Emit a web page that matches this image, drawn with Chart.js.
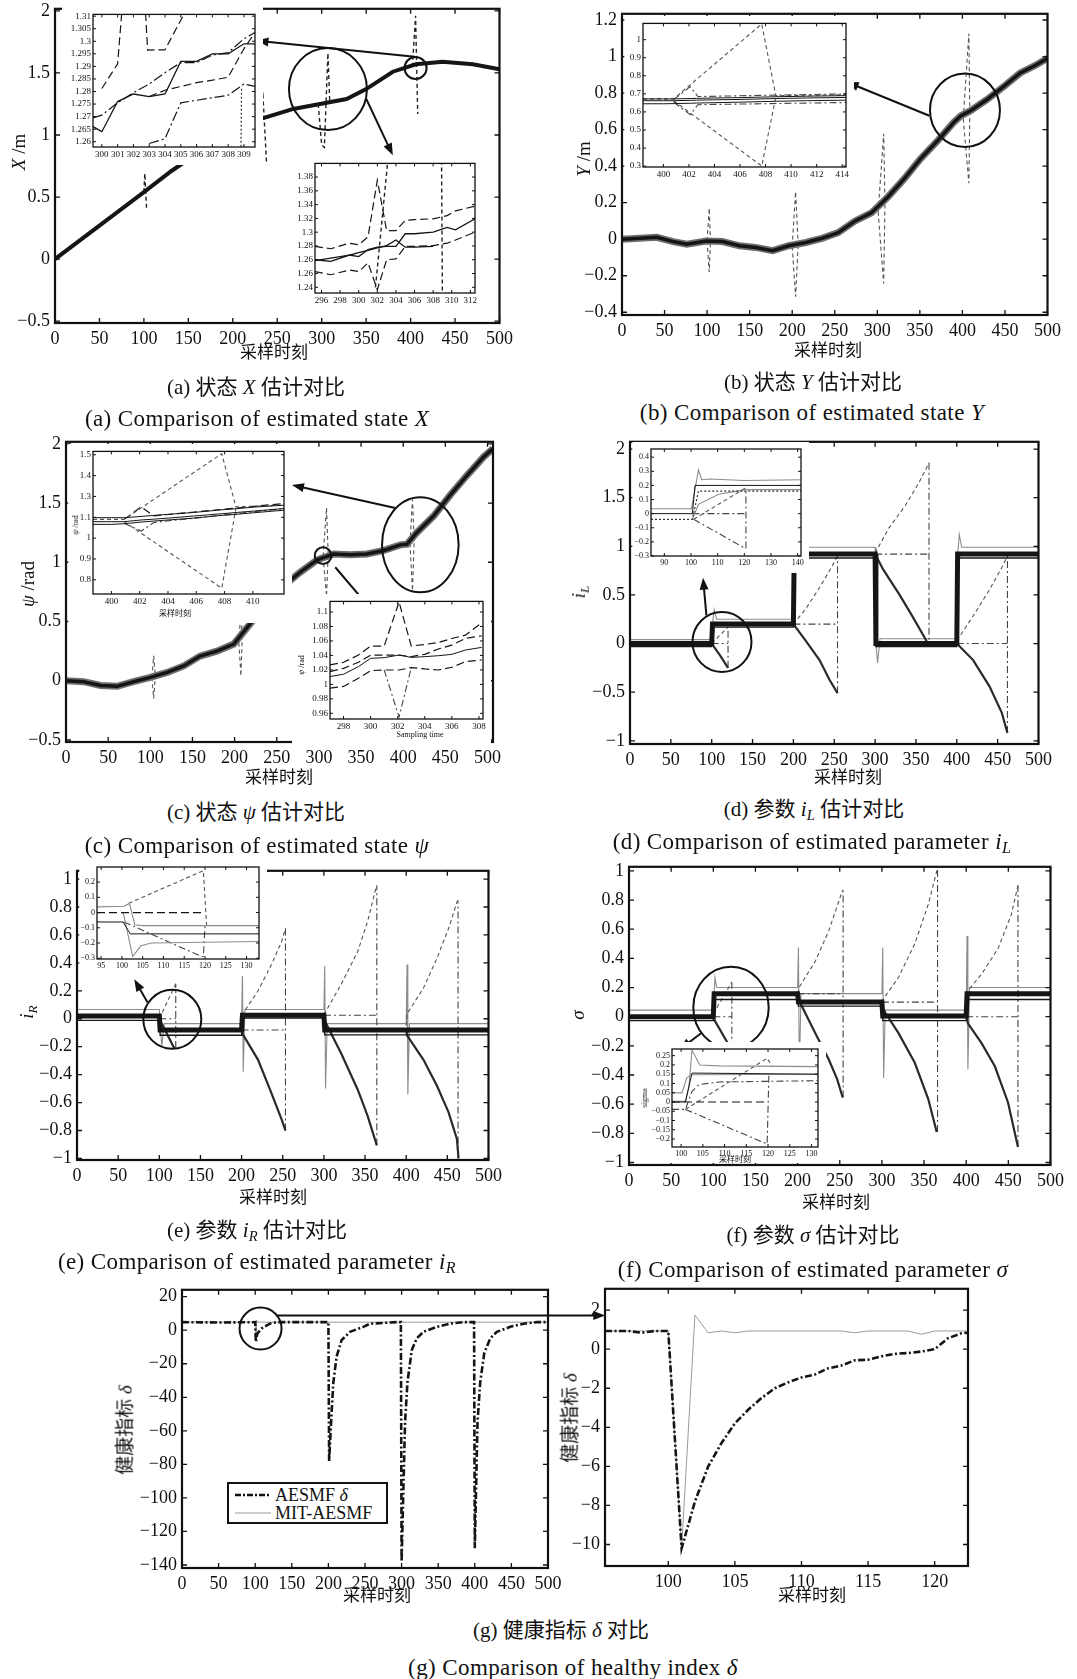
<!DOCTYPE html>
<html lang="zh">
<head>
<meta charset="utf-8">
<title>估计对比</title>
<script src="https://cdn.jsdelivr.net/npm/chart.js@4.4.1/dist/chart.umd.min.js"></script>
<style>
  html, body { margin: 0; padding: 0; background: #fff; }
  body { position: relative; width: 1077px; height: 1679px; overflow: hidden;
         font-family: 'Liberation Serif', 'Noto Sans CJK SC', serif; color: #111; }
  canvas { position: absolute; }
  .t { position: absolute; z-index: 5; white-space: nowrap; transform: translate(-50%, -50%); line-height: 1; }
  .r { transform: translate(-50%, -50%) rotate(-90deg); }
  .cap { font-size: 21px; }
  .en { font-size: 23px; letter-spacing: 0.4px; }
  .ax { font-size: 17px; }
  .yt { font-size: 19px; }
  .sm { font-size: 8px; }
  sub { font-size: 70%; vertical-align: -0.3em; }
</style>
</head>
<body>

<!-- axis titles -->
<div class="t ax" style="left:274px;top:352px">采样时刻</div>
<div class="t yt r" style="left:18px;top:152px"><i>X</i> /m</div>
<div class="t ax" style="left:828px;top:350px">采样时刻</div>
<div class="t yt r" style="left:583px;top:159px"><i>Y</i> /m</div>
<div class="t ax" style="left:279px;top:777px">采样时刻</div>
<div class="t yt r" style="left:27px;top:584px"><i>ψ</i> /rad</div>
<div class="t ax" style="left:848px;top:777px">采样时刻</div>
<div class="t yt r" style="left:580px;top:592px"><i>i</i><sub><i>L</i></sub></div>
<div class="t ax" style="left:273px;top:1197px">采样时刻</div>
<div class="t yt r" style="left:28px;top:1012px"><i>i</i><sub><i>R</i></sub></div>
<div class="t ax" style="left:836px;top:1202px">采样时刻</div>
<div class="t yt r" style="left:577px;top:1015px"><i>σ</i></div>
<div class="t ax" style="left:377px;top:1595px">采样时刻</div>
<div class="t yt r" style="left:125px;top:1430px">健康指标 <i>δ</i></div>
<div class="t ax" style="left:812px;top:1595px">采样时刻</div>
<div class="t yt r" style="left:570px;top:1418px">健康指标 <i>δ</i></div>

<!-- inset titles -->
<div class="t sm" style="left:175px;top:614px">采样时刻</div>
<div class="t sm r" style="left:76px;top:525px"><i>ψ</i> /rad</div>
<div class="t sm" style="left:420px;top:735px">Sampling time</div>
<div class="t sm r" style="left:302px;top:665px"><i>ψ</i> /rad</div>
<div class="t sm" style="left:735px;top:1160px">采样时刻</div>
<div class="t sm r" style="left:645px;top:1098px">sigma</div>

<!-- captions -->
<div class="t cap" style="left:256px;top:387px">(a) 状态 <i>X</i> 估计对比</div>
<div class="t en" style="left:257px;top:418px">(a) Comparison of estimated state <i>X</i></div>
<div class="t cap" style="left:813px;top:382px">(b) 状态 <i>Y</i> 估计对比</div>
<div class="t en" style="left:812px;top:412px">(b) Comparison of estimated state <i>Y</i></div>
<div class="t cap" style="left:256px;top:812px">(c) 状态 <i>ψ</i> 估计对比</div>
<div class="t en" style="left:257px;top:845px">(c) Comparison of estimated state <i>ψ</i></div>
<div class="t cap" style="left:814px;top:811px">(d) 参数 <i>i</i><sub><i>L</i></sub> 估计对比</div>
<div class="t en" style="left:812px;top:843px">(d) Comparison of estimated parameter <i>i</i><sub><i>L</i></sub></div>
<div class="t cap" style="left:257px;top:1232px">(e) 参数 <i>i</i><sub><i>R</i></sub> 估计对比</div>
<div class="t en" style="left:257px;top:1263px">(e) Comparison of estimated parameter <i>i</i><sub><i>R</i></sub></div>
<div class="t cap" style="left:813px;top:1235px">(f) 参数 <i>σ</i> 估计对比</div>
<div class="t en" style="left:813px;top:1269px">(f) Comparison of estimated parameter <i>σ</i></div>
<div class="t cap" style="left:561px;top:1630px">(g) 健康指标 <i>δ</i> 对比</div>
<div class="t en" style="left:573px;top:1667px">(g) Comparison of healthy index <i>δ</i></div>

<!-- legend of (g) -->
<div style="position:absolute;left:227px;top:1482px;width:157px;height:38px;border:2px solid #111;background:#fff;z-index:6;font-size:18px;line-height:1">
  <svg width="40" height="38" style="position:absolute;left:4px;top:0">
    <line x1="2" y1="11" x2="38" y2="11" stroke="#111" stroke-width="2.5" stroke-dasharray="6 2 2 2"/>
    <line x1="2" y1="29" x2="38" y2="29" stroke="#999" stroke-width="1"/>
  </svg>
  <div style="position:absolute;left:46px;top:2px">AESMF <i>δ</i></div>
  <div style="position:absolute;left:46px;top:20px">MIT-AESMF</div>
</div>

<script>
// ---------- tick values / labels ----------
const sampleTicks = [0, 50, 100, 150, 200, 250, 300, 350, 400, 450, 500];
const sampleLabels = ['0', '50', '100', '150', '200', '250', '300', '350', '400', '450', '500'];
const halfTicks = [-0.5, 0, 0.5, 1, 1.5, 2];
const halfLabels = ['−0.5', '0', '0.5', '1', '1.5', '2'];
const bYTicks = [-0.4, -0.2, 0, 0.2, 0.4, 0.6, 0.8, 1, 1.2];
const bYLabels = ['−0.4', '−0.2', '0', '0.2', '0.4', '0.6', '0.8', '1', '1.2'];
const dYTicks = [-1, -0.5, 0, 0.5, 1, 1.5, 2];
const dYLabels = ['−1', '−0.5', '0', '0.5', '1', '1.5', '2'];
const unitTicks = [-1, -0.8, -0.6, -0.4, -0.2, 0, 0.2, 0.4, 0.6, 0.8, 1];
const unitLabels = ['−1', '−0.8', '−0.6', '−0.4', '−0.2', '0', '0.2', '0.4', '0.6', '0.8', '1'];
const gYTicks = [-140, -120, -100, -80, -60, -40, -20, 0, 20];
const gYLabels = ['−140', '−120', '−100', '−80', '−60', '−40', '−20', '0', '20'];
const gZoomXTicks = [100, 105, 110, 115, 120];
const gZoomXLabels = ['100', '105', '110', '115', '120'];
const gZoomYTicks = [-10, -8, -6, -4, -2, 0, 2];
const gZoomYLabels = ['−10', '−8', '−6', '−4', '−2', '0', '2'];

const a1XTicks = [300, 301, 302, 303, 304, 305, 306, 307, 308, 309];
const a1XLabels = ['300', '301', '302', '303', '304', '305', '306', '307', '308', '309'];
const a1YTicks = [1.26, 1.265, 1.27, 1.275, 1.28, 1.285, 1.29, 1.295, 1.3, 1.305, 1.31];
const a1YLabels = ['1.26', '1.265', '1.27', '1.275', '1.28', '1.285', '1.29', '1.295', '1.3', '1.305', '1.31'];
const a2XTicks = [296, 298, 300, 302, 304, 306, 308, 310, 312];
const a2XLabels = ['296', '298', '300', '302', '304', '306', '308', '310', '312'];
const a2YTicks = [1.24, 1.2575, 1.275, 1.2925, 1.31, 1.3275, 1.345, 1.3625, 1.38];
const a2YLabels = ['1.24', '1.26', '1.26', '1.28', '1.3', '1.32', '1.34', '1.36', '1.38'];
const b1XTicks = [400, 402, 404, 406, 408, 410, 412, 414];
const b1XLabels = ['400', '402', '404', '406', '408', '410', '412', '414'];
const b1YTicks = [0.3, 0.4, 0.5, 0.6, 0.7, 0.8, 0.9, 1];
const b1YLabels = ['0.3', '0.4', '0.5', '0.6', '0.7', '0.8', '0.9', '1'];
const c1XTicks = [400, 402, 404, 406, 408, 410];
const c1XLabels = ['400', '402', '404', '406', '408', '410'];
const c1YTicks = [0.8, 0.9, 1, 1.1, 1.2, 1.3, 1.4];
const c1YLabels = ['0.8', '0.9', '1', '1.1', '1.3', '1.4', '1.5'];
const c2XTicks = [298, 300, 302, 304, 306, 308];
const c2XLabels = ['298', '300', '302', '304', '306', '308'];
const c2YTicks = [0.96, 0.98, 1, 1.02, 1.04, 1.06, 1.08, 1.1];
const c2YLabels = ['0.96', '0.98', '1', '1.02', '1.04', '1.06', '1.08', '1.1'];
const d1XTicks = [90, 100, 110, 120, 130, 140];
const d1XLabels = ['90', '100', '110', '120', '130', '140'];
const d1YTicks = [-0.3, -0.2, -0.1, 0, 0.1, 0.2, 0.3, 0.4];
const d1YLabels = ['−0.3', '−0.2', '−0.1', '0', '0.1', '0.2', '0.3', '0.4'];
const e1XTicks = [95, 100, 105, 110, 115, 120, 125, 130];
const e1XLabels = ['95', '100', '105', '110', '115', '120', '125', '130'];
const e1YTicks = [-0.3, -0.2, -0.1, 0, 0.1, 0.2];
const e1YLabels = ['−0.3', '−0.2', '−0.1', '0', '0.1', '0.2'];
const f1XTicks = [100, 105, 110, 115, 120, 125, 130];
const f1XLabels = ['100', '105', '110', '115', '120', '125', '130'];
const f1YTicks = [-0.2, -0.15, -0.1, -0.05, 0, 0.05, 0.1, 0.15, 0.2, 0.25];
const f1YLabels = ['−0.2', '−0.15', '−0.1', '−0.05', '0', '0.05', '0.1', '0.15', '0.2', '0.25'];

// ---------- (a) state X ----------
const aT = [0, 50, 100, 131, 180, 227, 268, 298, 328, 350, 380, 406, 436, 470, 500];
const aX = [0, 0.27, 0.54, 0.71, 0.95, 1.12, 1.21, 1.25, 1.29, 1.37, 1.51, 1.57, 1.59, 1.57, 1.53];
const aSpikeT = [100, 101, 103, null, 228, 234, 238, null, 296, 300, 303, 307, 309, null, 402, 405.6, 408];
const aSpikeX = [0.54, 0.69, 0.41, null, 1.13, 1.31, 0.77, null, 1.25, 0.92, 0.9, 1.66, 1.28, null, 1.55, 1.96, 1.17];

const a1T = [299.44, 300, 301, 302, 303, 304, 305, 306, 307, 308, 309, 309.7];
const a1Solid = [1.266, 1.264, 1.276, 1.279, 1.278, 1.279, 1.292, 1.292, 1.295, 1.295, 1.299, 1.299];
const a1DashDot = [1.2695, 1.2706, 1.2755, 1.2795, 1.283, 1.2875, 1.2915, 1.2915, 1.2945, 1.2955, 1.301, 1.3035];
const a1Mid = [null, null, null, null, 1.278, 1.2805, 1.282, 1.2835, 1.2845, 1.2857, 1.297, 1.3035];
const a1Low = [null, null, null, null, 1.2593, 1.2612, 1.2755, 1.2765, 1.2775, 1.2785, 1.283, 1.282];
const a1UpT = [300, 301, 301.5, 302.6, 302.9, 304, 305.3];
const a1UpV = [1.2812, 1.291, 1.33, 1.33, 1.2965, 1.2966, 1.312];
const a1DropT = [308.8, 308.85];
const a1DropV = [1.25, 1.282];

const a2T = [295.3, 297, 299, 300, 301, 302, 303, 304, 305, 306, 308, 309.5, 310.4, 312.5];
const a2Top = [1.292, 1.289, 1.296, 1.294, 1.304, 1.376, 1.312, 1.312, 1.325, 1.326, 1.327, 1.331, 1.337, 1.343];
const a2Mid = [1.275, 1.273, 1.281, 1.279, 1.288, 1.291, 1.292, 1.292, 1.308, 1.308, 1.31, 1.316, 1.313, 1.327];
const a2Low = [1.274, 1.277, 1.281, 1.284, 1.287, 1.29, 1.293, 1.3, 1.291, 1.291, 1.292, null, null, null];
const a2Dash = [1.26, 1.256, 1.262, 1.26, 1.271, 1.237, 1.275, 1.276, 1.292, 1.292, 1.293, 1.296, 1.3, 1.31];
const a2SpikeT = [301.8, 303.2];
const a2SpikeV = [1.24, 1.41];
const a2DropT = [308.9, 309.0];
const a2DropV = [1.41, 1.22];

// ---------- (b) state Y ----------
const bT = [0, 21, 41, 60, 76, 99, 118, 138, 157, 177, 196, 216, 235, 254, 274, 293, 313, 332, 351, 371, 390, 398, 410, 429, 449, 468, 487, 500];
const bY = [0, 0.005, 0.01, -0.013, -0.027, -0.01, -0.013, -0.036, -0.045, -0.063, -0.036, -0.018, 0.005, 0.036, 0.1, 0.144, 0.234, 0.333, 0.441, 0.54, 0.64, 0.675, 0.705, 0.765, 0.838, 0.91, 0.955, 0.99];
const bSpikeT = [100, 102.5, 104, null, 200, 204, 207, null, 301, 307.5, 309, null, 401, 407.6, 408.7];
const bSpikeUp = [-0.01, 0.17, -0.01, null, -0.04, 0.26, -0.03, null, 0.15, 0.577, 0.2, null, 0.66, 1.126, 0.69];
const bSpikeDown = [-0.01, -0.18, -0.01, null, -0.04, -0.315, -0.03, null, 0.15, -0.243, 0.2, null, 0.66, 0.306, 0.69];

const b1T = [398.4, 400, 400.8, 402.1, 402.6, 403.9, 406, 407.7, 408.8, 411.2, 414.3];
const b1SolidA = [0.672, 0.672, 0.672, 0.674, 0.675, 0.677, 0.679, 0.682, 0.684, 0.687, 0.69];
const b1SolidB = [0.662, 0.662, 0.662, 0.664, 0.665, 0.667, 0.669, 0.672, 0.674, 0.677, 0.68];
const b1SolidC = [0.645, 0.645, 0.646, 0.648, 0.649, 0.651, 0.654, 0.657, 0.659, 0.662, 0.665];
const b1UpT = [398.4, 400.8, 407.7, 408.8, 414.3];
const b1UpV = [0.672, 0.672, 1.087, 0.69, 0.695];
const b1DownT = [400.8, 407.7, 408.8];
const b1DownV = [0.662, 0.3, 0.68];
const b1WingT = [400.8, 402.1, 402.7, 414.3];
const b1WingUp = [0.668, 0.74, 0.685, 0.7];
const b1WingDown = [0.655, 0.585, 0.64, 0.652];

// ---------- (c) state psi ----------
const cT = [0, 21, 41, 60.5, 80, 100, 120, 139.6, 159, 179, 199, 219, 238, 258, 278, 298, 317.5, 337, 357, 377, 396.6, 404.5, 416, 436, 456, 476, 495.5, 506.5];
const cPsi = [0, -0.008, -0.04, -0.047, -0.008, 0.028, 0.07, 0.125, 0.208, 0.25, 0.31, 0.486, 0.65, 0.8, 0.917, 1.02, 1.07, 1.064, 1.07, 1.1, 1.147, 1.153, 1.25, 1.39, 1.57, 1.736, 1.89, 1.96];
const cSpikeT = [102, 104, 106, null, 205, 207.5, 209, null, 305, 309, 311, null, 408, 411, 413];
const cSpikeUp = [0.03, 0.21, 0.04, null, 0.32, 0.6, 0.36, null, 1.05, 1.46, 1.07, null, 1.16, 1.53, 1.18];
const cSpikeDown = [0.03, -0.15, 0.04, null, 0.32, 0.04, 0.36, null, 1.05, 0.71, 1.07, null, 1.16, 0.76, 1.18];

const c1T = [398.7, 400, 400.9, 402.1, 403, 404, 405.8, 407.8, 408.8, 410.1, 412.2];
const c1SolidA = [1.098, 1.098, 1.098, 1.104, 1.109, 1.114, 1.123, 1.136, 1.141, 1.149, 1.158];
const c1SolidB = [1.079, 1.079, 1.079, 1.087, 1.091, 1.096, 1.106, 1.117, 1.123, 1.13, 1.142];
const c1SolidC = [1.066, 1.066, 1.069, 1.077, 1.082, 1.087, 1.096, 1.109, 1.114, 1.122, 1.134];
const c1UpT = [398.7, 400.9, 407.8, 408.8, 412.2];
const c1UpV = [1.09, 1.09, 1.405, 1.15, 1.158];
const c1DownT = [400.9, 407.8, 408.8];
const c1DownV = [1.079, 0.76, 1.142];
const c1WingT = [400.9, 402.1, 403, 412.2];
const c1WingUp = [1.09, 1.15, 1.107, 1.166];
const c1WingDown = [1.071, 1.034, 1.075, 1.142];

const c2T = [297, 298, 299.1, 300, 301, 302.1, 303, 304, 305, 306, 307, 308.2];
const c2Top = [1.0268, 1.0305, 1.0405, 1.0529, 1.0529, 1.1138, 1.0529, 1.0552, 1.0579, 1.0634, 1.068, 1.0849];
const c2Dash = [1.0177, 1.0222, 1.0305, 1.0405, 1.0405, 1.0405, 1.0383, 1.0415, 1.0488, 1.0543, 1.0634, 1.0671];
const c2Solid = [1.0108, 1.014, 1.0245, 1.036, 1.0369, 1.0405, 1.0373, 1.0383, 1.0396, 1.0415, 1.0474, 1.0511];
const c2Low = [0.9948, 0.9971, 1.0085, 1.019, 1.0199, 1.0199, 1.0232, 1.0213, 1.0199, 1.0236, 1.0314, 1.0337];
const c2DipT = [301, 302.1, 303];
const c2DipV = [1.0199, 0.955, 1.023];

// ---------- (d) parameter i_L ----------
const dStepT = [0, 100, 101, 200, 201, 300, 301, 400, 401, 500];
const dBand = [0, 0, 0.2, 0.2, 0.92, 0.92, 0, 0, 0.92, 0.92];
const dLow = [-0.03, -0.03, 0.17, 0.17, 0.88, 0.88, -0.03, -0.03, 0.88, 0.88];
const dGrayT = [0, 100, 101, 103, 106, 200, 201, 203, 206, 300, 301, 303, 306, 400, 401, 403, 406, 500];
const dGray = [0.04, 0.04, 0.2, 0.35, 0.25, 0.25, 0.93, 1.1, 0.99, 0.99, 0, -0.2, 0.05, 0.05, 0.9, 1.12, 0.99, 0.99];
const dUpT = [100, 120, null, 200, 215, 232, 244, 254, null, 300, 317, 337, 354, 366, null, 400, 419, 439, 455, 462];
const dUp = [0, 0.17, null, 0.2, 0.356, 0.576, 0.746, 0.9, null, 0.93, 1.19, 1.42, 1.66, 1.86, null, 0.03, 0.27, 0.54, 0.78, 0.9];
const dDownT = [100, 110, 120, null, 200, 215, 232, 244, 254, null, 300, 310, 330, 345, 360, 366, null, 400, 420, 440, 455, 462];
const dDown = [0, -0.12, -0.25, null, 0.2, 0.03, -0.17, -0.37, -0.51, null, 0.92, 0.76, 0.5, 0.29, 0.07, -0.02, null, 0, -0.17, -0.44, -0.71, -0.92];
const dHoldT = [100, 120, null, 120, 120, null, 200, 254, null, 254, 254, null, 300, 366, null, 366, 366, null, 400, 462, null, 462, 462];
const dHold = [0, 0, null, -0.25, 0.17, null, 0.2, 0.2, null, -0.51, 0.9, null, 0.92, 0.92, null, 1.86, 0, null, 0, 0, null, -0.92, 0.9];

const d1GrayT = [85, 100.2, 102.8, 104, 107, 120, 141.25];
const d1Gray = [0.035, 0.035, 0.31, 0.24, 0.245, 0.235, 0.24];
const d1StepT = [85, 100.5, 101.5, 141.25];
const d1Solid = [0, 0, 0.2, 0.2];
const d1LowT = [85, 100.5, 102.8, 141.25];
const d1Low = [-0.04, -0.04, 0.16, 0.16];
const d1ConvT = [100.5, 102.8, 110.4, 120.6, 141.25];
const d1Conv = [-0.04, 0.066, 0.137, 0.17, 0.17];
const d1UpT = [101, 120.6];
const d1Up = [-0.04, 0.184];
const d1DownT = [101, 120.3];
const d1Down = [-0.04, -0.246];
const d1HoldT = [100.5, 120.3, null, 120.6, 120.6];
const d1Hold = [0, 0, null, -0.246, 0.18];

// ---------- (e) parameter i_R ----------
const eStepT = [0, 100, 101, 200, 201, 300, 301, 500];
const eBand = [0.02, 0.02, -0.08, -0.08, 0.025, 0.025, -0.08, -0.08];
const eLow = [-0.012, -0.012, -0.118, -0.118, 0.005, 0.005, -0.115, -0.115];
const eGrayT = [0, 100, 103, 106, 200, 201, 202, 204, 300, 301, 302, 304, 400, 401, 402, 404, 500];
const eGray = [0.066, 0.066, -0.2, -0.035, -0.035, 0.34, -0.38, 0.066, 0.066, 0.376, -0.5, -0.035, -0.035, 0.388, -0.54, -0.035, -0.035];
const eUpT = [100, 120, null, 200, 204, 220, 236.4, 248.5, 253.3, null, 300, 303, 321, 341, 353, 364, null, 400, 401, 421, 437.5, 451.5, 462.4];
const eUp = [0, 0.25, null, 0.02, 0.059, 0.2, 0.39, 0.55, 0.647, null, 0.03, 0.06, 0.247, 0.48, 0.694, 0.953, null, -0.05, 0.035, 0.22, 0.435, 0.647, 0.847];
const eDownT = [100, 118, null, 200, 201, 220, 236, 248.5, 253.3, null, 300, 300.8, 320.9, 341, 353, 364.3, null, 400, 401, 421, 437.5, 451.5, 461.6, 463.6];
const eDown = [0, -0.21, null, -0.08, -0.106, -0.294, -0.529, -0.718, -0.8, null, 0.025, -0.012, -0.247, -0.506, -0.694, -0.906, null, -0.08, -0.118, -0.294, -0.482, -0.67, -0.86, -1.0];
const eHoldT = [100, 120, null, 120, 120, null, 200, 253.3, null, 253.3, 253.3, null, 300, 364.3, null, 364.3, 364.3, null, 400, 463, null, 463, 463];
const eHold = [0, 0, null, -0.21, 0.25, null, -0.08, -0.08, null, -0.8, 0.647, null, 0.025, 0.025, null, -0.906, 0.953, null, -0.08, -0.08, null, -1.0, 0.847];

const e1GrayT = [94, 100.5, 101.8, 103.1, 105, 133];
const e1Gray = [0.037, 0.041, 0.06, -0.08, -0.086, -0.086];
const e1SpikeT = [100.3, 102.6, 104.5, 107, 133];
const e1Spike = [0, -0.289, -0.22, -0.2, -0.19];
const e1ZeroT = [94, 119.5];
const e1Zero = [0, 0];
const e1SolidT = [94, 100.3, 102, 133];
const e1Solid = [-0.062, -0.062, -0.14, -0.14];
const e1UpT = [101.6, 119.6, 120.4];
const e1Up = [0.06, 0.275, -0.09];
const e1DownT = [100.5, 119.2, 119.6, 120];
const e1Down = [-0.062, -0.289, -0.289, -0.09];

// ---------- (f) parameter sigma ----------
const fStepT = [0, 100, 101, 200, 201, 300, 301, 400, 401, 500];
const fBand = [0, 0, 0.158, 0.158, 0.1, 0.1, 0.005, 0.005, 0.158, 0.158];
const fLow = [-0.027, -0.027, 0.118, 0.118, 0.072, 0.072, -0.027, -0.027, 0.118, 0.118];
const fGrayT = [0, 100, 102, 104, 200, 201, 202, 204, 300, 301, 302, 304, 400, 401, 402, 404, 500];
const fGray = [0.045, 0.045, 0.27, 0.2, 0.2, 0.474, -0.41, 0.158, 0.158, 0.474, -0.42, 0.045, 0.045, 0.553, -0.36, 0.2, 0.2];
const fUpT = [100, 122, null, 200, 201.6, 221, 237, 253.5, null, 300, 302, 319.7, 339, 355, 366, null, 400, 402, 418, 438, 453.5, 461.4];
const fUp = [0.02, 0.237, null, 0.158, 0.2, 0.38, 0.59, 0.87, null, 0.1, 0.124, 0.27, 0.5, 0.77, 1.02, null, 0.005, 0.18, 0.29, 0.47, 0.7, 0.9];
const fDownT = [100, 121, null, 200, 203.5, 221, 237, 247, 253.5, null, 300, 302, 319.7, 339, 355, 365, null, 400, 402, 418, 434, 449.6, 461.4];
const fDown = [-0.01, -0.22, null, 0.158, 0.09, -0.113, -0.294, -0.43, -0.554, null, 0.1, 0.045, -0.113, -0.316, -0.565, -0.79, null, 0.005, -0.045, -0.18, -0.34, -0.588, -0.893];
const fHoldT = [100, 122, null, 122, 122, null, 200, 254, null, 254, 254, null, 300, 366, null, 366, 366, null, 400, 461.4, null, 461.4, 461.4];
const fHold = [0, 0, null, -0.22, 0.237, null, 0.158, 0.158, null, -0.554, 0.87, null, 0.1, 0.1, null, -0.79, 1.02, null, 0, 0, null, -0.893, 0.9];

const f1GrayT = [97.9, 101, 101.8, 102.5, 104.3, 108.8, 131.5];
const f1Gray = [0.004, 0.004, 0.085, 0.28, 0.2, 0.195, 0.191];
const f1SolidT = [97.9, 101, 102.5, 131.5];
const f1Solid = [0, 0, 0.156, 0.15];
const f1PaleT = [97.9, 100.2, 101.3, 102.5, 131.5];
const f1Pale = [0.049, 0.049, 0.13, 0.147, 0.15];
const f1LowT = [97.9, 101, 102.5, 104.1, 108.8, 131.5];
const f1Low = [-0.04, -0.04, 0.058, 0.094, 0.108, 0.115];
const f1ZeroT = [97.9, 119.8];
const f1Zero = [0, 0];
const f1UpT = [101, 119.8, 121];
const f1Up = [-0.04, 0.236, 0.19];
const f1DownT = [101, 119.8, 120.2];
const f1Down = [-0.04, -0.227, 0.15];

// ---------- (g) healthy index delta ----------
const gT = [0, 50, 100, 100.8, 103, 108.6, 120, 129, 200, 201, 204.4, 206.7, 211.2, 218, 229.5, 247.7, 256.8, 293, 299, 300, 304.7, 308, 313.9, 320.7, 329.8, 348, 366, 384.6, 399, 400, 403.7, 407.4, 412.9, 421, 430, 448.4, 466.7, 485, 500];
const gAesmf = [4.8, 4.6, 4.8, -6.9, -2, 1, 3.9, 4.8, 4.8, -78, -49, -31.4, -15.7, -5.9, -1, 2, 3.9, 4.8, 4.8, -138, -55, -31, -11.8, -4.9, -1, 2, 3.9, 4.8, 4.8, -130, -55, -31, -13.7, -4.9, -1, 2, 3.9, 4.8, 4.8];
const gMitT = [0, 100, 101, 102, 103, 500];
const gMit = [4.8, 4.8, -4, 6, 4.8, 4.8];
const gZoomT = [95.25, 96, 97, 98, 99, 100, 101, 102, 103, 104, 105, 106, 107, 108, 109, 110, 111, 112, 113, 114, 115, 116, 117, 118, 119, 120, 121, 122, 122.5];
const gZoomAesmf = [0.93, 0.93, 0.93, 0.84, 0.93, 0.93, -10.2, -7.8, -6.0, -4.8, -3.8, -3.1, -2.5, -2.0, -1.7, -1.45, -1.3, -0.98, -0.84, -0.57, -0.54, -0.37, -0.24, -0.2, -0.12, 0, 0.56, 0.81, 0.84];
const gZoomMit = [0.93, 0.93, 0.93, 0.93, 0.93, 0.93, -10.2, 1.74, 0.84, 0.93, 0.84, 0.93, 0.93, 0.93, 0.93, 0.93, 0.93, 0.93, 0.93, 0.84, 0.93, 0.93, 0.93, 0.93, 0.76, 0.93, 0.93, 0.93, 0.93];

// ---------- styles ----------
Chart.defaults.font.family = "'Liberation Serif', 'DejaVu Serif', serif";
Chart.defaults.color = '#111';
const K = '#151515';
const ST = {
    thick: { borderColor: K, borderWidth: 4 },
    core: { borderColor: K, borderWidth: 3.5 },
    fuzz: { borderColor: '#6e6e6e', borderWidth: 7 },
    band: { borderColor: K, borderWidth: 5 },
    solid: { borderColor: K, borderWidth: 1.3 },
    decay: { borderColor: '#2a2a2a', borderWidth: 2.2 },
    gray: { borderColor: '#8c8c8c', borderWidth: 1.1 },
    spike: { borderColor: '#222', borderWidth: 1.4, borderDash: [4, 3] },
    dash: { borderColor: '#555', borderWidth: 1.1, borderDash: [4, 3] },
    dashdot: { borderColor: '#444', borderWidth: 1.1, borderDash: [7, 3, 2, 3] },
    longdash: { borderColor: K, borderWidth: 1.2, borderDash: [8, 4] },
    dot: { borderColor: '#333', borderWidth: 1.2, borderDash: [2, 2] },
    thin: { borderColor: K, borderWidth: 1 },
    aesmf: { borderColor: K, borderWidth: 2.6, borderDash: [7, 2.5, 2, 2.5] },
    mit: { borderColor: '#9a9a9a', borderWidth: 1 }
};

function line(T, V, st) {
    return Object.assign({
        data: T.map((t, i) => ({ x: t === null ? T[i - 1] : t, y: V[i] })),
        pointRadius: 0, tension: 0, fill: false, spanGaps: false
    }, st);
}

// frame, inward ticks on four sides, circles and arrows
function framePlugin(o) {
    return {
        id: 'frame',
        beforeDraw(chart) {
            if (!o.bg) return;
            const c = chart.ctx;
            const x0 = o.bgLeft !== undefined ? Math.max(0, o.bgLeft - o.cx) : 0;
            const y0 = o.bgTop !== undefined ? Math.max(0, o.bgTop - o.cy) : 0;
            const y1 = o.bgBottom !== undefined ? Math.min(chart.height, o.bgBottom - o.cy) : chart.height;
            c.save();
            c.fillStyle = '#fff';
            c.fillRect(x0, y0, chart.width - x0, y1 - y0);
            c.restore();
        },
        afterDraw(chart) {
            const { ctx: c, chartArea: a, scales: { x, y } } = chart;
            c.save();
            c.strokeStyle = '#111';
            c.fillStyle = '#111';
            c.lineWidth = o.lw;
            c.strokeRect(a.left, a.top, a.right - a.left, a.bottom - a.top);
            c.lineWidth = Math.max(1, o.lw * 0.6);
            c.beginPath();
            x.ticks.forEach(t => {
                const p = x.getPixelForValue(t.value);
                c.moveTo(p, a.bottom); c.lineTo(p, a.bottom - o.tick);
                c.moveTo(p, a.top); c.lineTo(p, a.top + o.tick);
            });
            y.ticks.forEach(t => {
                const p = y.getPixelForValue(t.value);
                c.moveTo(a.left, p); c.lineTo(a.left + o.tick, p);
                c.moveTo(a.right, p); c.lineTo(a.right - o.tick, p);
            });
            c.stroke();
            c.lineWidth = 2;
            (o.circles || []).forEach(k => {
                c.beginPath();
                c.ellipse(x.getPixelForValue(k.x), y.getPixelForValue(k.y), k.rx, k.ry, 0, 0, Math.PI * 2);
                c.stroke();
            });
            (o.arrows || []).forEach(k => {
                const x1 = x.getPixelForValue(k.x1), y1 = y.getPixelForValue(k.y1);
                const x2 = x.getPixelForValue(k.x2), y2 = y.getPixelForValue(k.y2);
                const an = Math.atan2(y2 - y1, x2 - x1), ca = Math.cos(an), sa = Math.sin(an);
                c.beginPath();
                c.moveTo(x1, y1);
                c.lineTo(x2 - 8 * ca, y2 - 8 * sa);
                c.stroke();
                c.beginPath();
                c.moveTo(x2, y2);
                c.lineTo(x2 - 12 * ca + 4.5 * sa, y2 - 12 * sa - 4.5 * ca);
                c.lineTo(x2 - 12 * ca - 4.5 * sa, y2 - 12 * sa + 4.5 * ca);
                c.closePath();
                c.fill();
            });
            c.restore();
        }
    };
}

// area = [left, top, width, height] of the plotting box on the page
function plot(area, xs, ys, datasets, o) {
    const [l, t, w, h] = area;
    const p = o.pad;
    const cw = Math.round(p.l + o.yw + w + p.r), ch = Math.round(p.t + h + o.xh + p.b);
    o.cx = l - o.yw - p.l;
    o.cy = t - p.t;
    const cv = document.createElement('canvas');
    cv.width = cw; cv.height = ch;
    cv.style.left = o.cx + 'px';
    cv.style.top = o.cy + 'px';
    cv.style.width = cw + 'px';
    cv.style.height = ch + 'px';
    document.body.appendChild(cv);
    const axis = (s, isX) => ({
        type: 'linear', min: s.min, max: s.max, bounds: 'data',
        grid: { display: false, drawTicks: false },
        border: { display: false },
        ticks: {
            autoSkip: false, maxRotation: 0, padding: o.tpad, color: '#111',
            font: { size: o.fs },
            callback: (v, i) => s.labels[i]
        },
        afterBuildTicks: sc => { sc.ticks = s.ticks.map(v => ({ value: v })); },
        afterFit: sc => { if (isX) sc.height = o.xh; else sc.width = o.yw; }
    });
    return new Chart(cv, {
        type: 'line',
        data: { datasets },
        options: {
            responsive: false, animation: false, devicePixelRatio: 1, events: [],
            layout: { padding: { left: p.l, right: p.r, top: p.t, bottom: p.b } },
            plugins: { legend: { display: false }, tooltip: { enabled: false } },
            scales: { x: axis(xs, true), y: axis(ys, false) }
        },
        plugins: [framePlugin(o)]
    });
}

const MAIN = { yw: 44, xh: 26, fs: 18, tpad: 5, pad: { l: 4, t: 12, r: 16, b: 4 }, tick: 5, lw: 2.2 };
const INSET = { yw: 26, xh: 13, fs: 9, tpad: 2, pad: { l: 4, t: 7, r: 8, b: 5 }, tick: 3, lw: 1.3, bg: true };
const main = extra => Object.assign({}, MAIN, extra);
const inset = extra => Object.assign({}, INSET, extra);
const sx = { min: 0, max: 500, ticks: sampleTicks, labels: sampleLabels };

// ---------- main panels ----------
plot([55, 5, 446.7, 318], sx, { min: -0.515, max: 2.017, ticks: halfTicks, labels: halfLabels }, [
    line(aT, aX, ST.thick),
    line(aSpikeT, aSpikeX, ST.spike)
], main({
    circles: [{ x: 307, y: 1.37, rx: 39, ry: 41 }, { x: 405.6, y: 1.54, rx: 11, ry: 11 }],
    arrows: [{ x1: 404.5, y1: 1.63, x2: 226.6, y2: 1.76 }, { x1: 350.2, y1: 1.29, x2: 380, y2: 0.836 }]
}));

plot([621.7, 10, 428.3, 305], sx, { min: -0.415, max: 1.234, ticks: bYTicks, labels: bYLabels }, [
    line(bT, bY, ST.core),
    line(bT, bY, ST.fuzz),
    line(bSpikeT, bSpikeUp, ST.dash),
    line(bSpikeT, bSpikeDown, ST.dash)
], main({
    circles: [{ x: 403, y: 0.706, rx: 35, ry: 36.7 }],
    arrows: [{ x1: 361.2, y1: 0.676, x2: 264, y2: 0.861 }]
}));

plot([65.7, 438, 427, 304], { min: 0, max: 506.5, ticks: sampleTicks, labels: sampleLabels },
    { min: -0.517, max: 2.017, ticks: halfTicks, labels: halfLabels }, [
    line(cT, cPsi, ST.core),
    line(cT, cPsi, ST.fuzz),
    line(cSpikeT, cSpikeUp, ST.dash),
    line(cSpikeT, cSpikeDown, ST.dash)
], main({
    circles: [{ x: 304.9, y: 1.056, rx: 8.3, ry: 8.3 }, { x: 420.3, y: 1.148, rx: 38.3, ry: 47.5 }],
    arrows: [{ x1: 319.4, y1: 0.958, x2: 361, y2: 0.611 }, { x1: 390.6, y1: 1.458, x2: 268, y2: 1.653 }]
}));

plot([630, 437.7, 411, 305.6], sx, { min: -1.033, max: 2.075, ticks: dYTicks, labels: dYLabels }, [
    line(dStepT, dBand, ST.band),
    line(dStepT, dLow, ST.solid),
    line(dDownT, dDown, ST.decay),
    line(dUpT, dUp, ST.dash),
    line(dHoldT, dHold, ST.dashdot),
    line(dGrayT, dGray, ST.gray)
], main({
    circles: [{ x: 112.6, y: 0.017, rx: 29.5, ry: 30 }],
    arrows: [{ x1: 93.5, y1: 0.289, x2: 89.4, y2: 0.678 }]
}));

plot([77.3, 866.7, 414.4, 293.3], sx, { min: -1.011, max: 1.059, ticks: unitTicks, labels: unitLabels }, [
    line(eStepT, eBand, ST.band),
    line(eStepT, eLow, ST.solid),
    line(eDownT, eDown, ST.decay),
    line(eUpT, eUp, ST.dash),
    line(eHoldT, eHold, ST.dashdot),
    line(eGrayT, eGray, ST.gray)
], main({
    circles: [{ x: 115.8, y: -0.004, rx: 29, ry: 29.5 }],
    arrows: [{ x1: 85.6, y1: 0.118, x2: 69.6, y2: 0.282 }]
}));

plot([629.3, 863.3, 424, 301.7], sx, { min: -1.017, max: 1.028, ticks: unitTicks, labels: unitLabels }, [
    line(fStepT, fBand, ST.band),
    line(fStepT, fLow, ST.solid),
    line(fDownT, fDown, ST.decay),
    line(fUpT, fUp, ST.dash),
    line(fHoldT, fHold, ST.dashdot),
    line(fGrayT, fGray, ST.gray)
], main({
    circles: [{ x: 121, y: 0.063, rx: 37.7, ry: 40.8 }],
    arrows: [{ x1: 85.5, y1: -0.113, x2: 59.9, y2: -0.226 }]
}));

plot([182.3, 1285.7, 365.7, 282], sx, { min: -141.8, max: 24.1, ticks: gYTicks, labels: gYLabels }, [
    line(gT, gAesmf, ST.aesmf),
    line(gMitT, gMit, ST.mit)
], main({
    yw: 50, pad: { l: 4, t: 12, r: 64, b: 4 },
    circles: [{ x: 107.3, y: 1.0, rx: 21, ry: 21 }],
    arrows: [{ x1: 129.2, y1: 8.8, x2: 578.2, y2: 8.8 }]
}));

plot([605, 1285, 363, 281], { min: 95.25, max: 122.5, ticks: gZoomXTicks, labels: gZoomXLabels },
    { min: -11.1, max: 3.09, ticks: gZoomYTicks, labels: gZoomYLabels }, [
    line(gZoomT, gZoomAesmf, ST.aesmf),
    line(gZoomT, gZoomMit, ST.mit)
], main({ yw: 36 }));

// ---------- insets ----------
plot([93, 14, 162, 133], { min: 299.44, max: 309.7, ticks: a1XTicks, labels: a1XLabels },
    { min: 1.2579, max: 1.3107, ticks: a1YTicks, labels: a1YLabels }, [
    line(a1T, a1Solid, ST.solid),
    line(a1T, a1DashDot, Object.assign({}, ST.longdash, { borderDash: [10, 3, 2, 3] })),
    line(a1T, a1Mid, ST.longdash),
    line(a1T, a1Low, Object.assign({}, ST.longdash, { borderDash: [10, 3, 2, 3] })),
    line(a1UpT, a1UpV, ST.longdash),
    line(a1DropT, a1DropV, ST.dot)
], inset({ yw: 27, bgLeft: 57 }));

plot([315, 163, 160, 130], { min: 295.3, max: 312.5, ticks: a2XTicks, labels: a2XLabels },
    { min: 1.2328, max: 1.3973, ticks: a2YTicks, labels: a2YLabels }, [
    line(a2T, a2Mid, ST.solid),
    line(a2T, a2Low, ST.solid),
    line(a2T, a2Top, ST.longdash),
    line(a2T, a2Dash, ST.longdash),
    line(a2SpikeT, a2SpikeV, ST.spike),
    line(a2DropT, a2DropV, ST.spike)
], inset({ yw: 24 }));

plot([642.7, 22.7, 203.3, 144], { min: 398.4, max: 414.3, ticks: b1XTicks, labels: b1XLabels },
    { min: 0.295, max: 1.09, ticks: b1YTicks, labels: b1YLabels }, [
    line(b1T, b1SolidA, ST.thin),
    line(b1T, b1SolidB, ST.thin),
    line(b1T, b1SolidC, ST.thin),
    line(b1UpT, b1UpV, ST.dash),
    line(b1DownT, b1DownV, ST.dash),
    line(b1WingT, b1WingUp, ST.dashdot),
    line(b1WingT, b1WingDown, ST.dashdot)
], inset({ yw: 20, xh: 14, bgLeft: 624 }));

plot([92.7, 451, 190.6, 143.3], { min: 398.7, max: 412.2, ticks: c1XTicks, labels: c1XLabels },
    { min: 0.732, max: 1.416, ticks: c1YTicks, labels: c1YLabels }, [
    line(c1T, c1SolidA, ST.thin),
    line(c1T, c1SolidB, ST.thin),
    line(c1T, c1SolidC, ST.thin),
    line(c1UpT, c1UpV, ST.dash),
    line(c1DownT, c1DownV, ST.dash),
    line(c1WingT, c1WingUp, ST.longdash),
    line(c1WingT, c1WingDown, ST.dashdot)
], inset({ yw: 24, xh: 24, bgLeft: 68 }));

plot([330, 601, 153.3, 118.3], { min: 297, max: 308.3, ticks: c2XTicks, labels: c2XLabels },
    { min: 0.9522, max: 1.1146, ticks: c2YTicks, labels: c2YLabels }, [
    line(c2T, c2Solid, ST.thin),
    line(c2T, c2Top, ST.longdash),
    line(c2T, c2Dash, ST.longdash),
    line(c2T, c2Low, ST.longdash),
    line(c2DipT, c2DipV, ST.dashdot)
], inset({ yw: 34, xh: 24 }));

plot([650.7, 449.3, 150, 107.4], { min: 85, max: 141.25, ticks: d1XTicks, labels: d1XLabels },
    { min: -0.3, max: 0.458, ticks: d1YTicks, labels: d1YLabels }, [
    line(d1StepT, d1Solid, ST.thin),
    line(d1LowT, d1Low, ST.dot),
    line(d1GrayT, d1Gray, ST.gray),
    line(d1ConvT, d1Conv, ST.gray),
    line(d1UpT, d1Up, ST.dash),
    line(d1DownT, d1Down, ST.dashdot),
    line(d1HoldT, d1Hold, ST.dashdot)
], inset({ yw: 22, xh: 12, fs: 8, bgLeft: 632, bgTop: 440 }));

plot([96.7, 867.3, 161.6, 91.7], { min: 94, max: 133, ticks: e1XTicks, labels: e1XLabels },
    { min: -0.305, max: 0.299, ticks: e1YTicks, labels: e1YLabels }, [
    line(e1SolidT, e1Solid, ST.thin),
    line(e1ZeroT, e1Zero, ST.longdash),
    line(e1GrayT, e1Gray, ST.gray),
    line(e1SpikeT, e1Spike, ST.gray),
    line(e1UpT, e1Up, ST.dash),
    line(e1DownT, e1Down, ST.dashdot)
], inset({ yw: 22, xh: 12, fs: 8, bgLeft: 79, bgTop: 868 }));

plot([671.7, 1049, 145.6, 98.3], { min: 97.9, max: 131.5, ticks: f1XTicks, labels: f1XLabels },
    { min: -0.243, max: 0.286, ticks: f1YTicks, labels: f1YLabels }, [
    line(f1SolidT, f1Solid, ST.thin),
    line(f1LowT, f1Low, ST.dashdot),
    line(f1GrayT, f1Gray, ST.gray),
    line(f1PaleT, f1Pale, ST.gray),
    line(f1ZeroT, f1Zero, ST.longdash),
    line(f1UpT, f1Up, ST.dash),
    line(f1DownT, f1Down, ST.dashdot)
], inset({ yw: 32, xh: 18, fs: 8, bgBottom: 1163 }));
</script>
</body>
</html>
